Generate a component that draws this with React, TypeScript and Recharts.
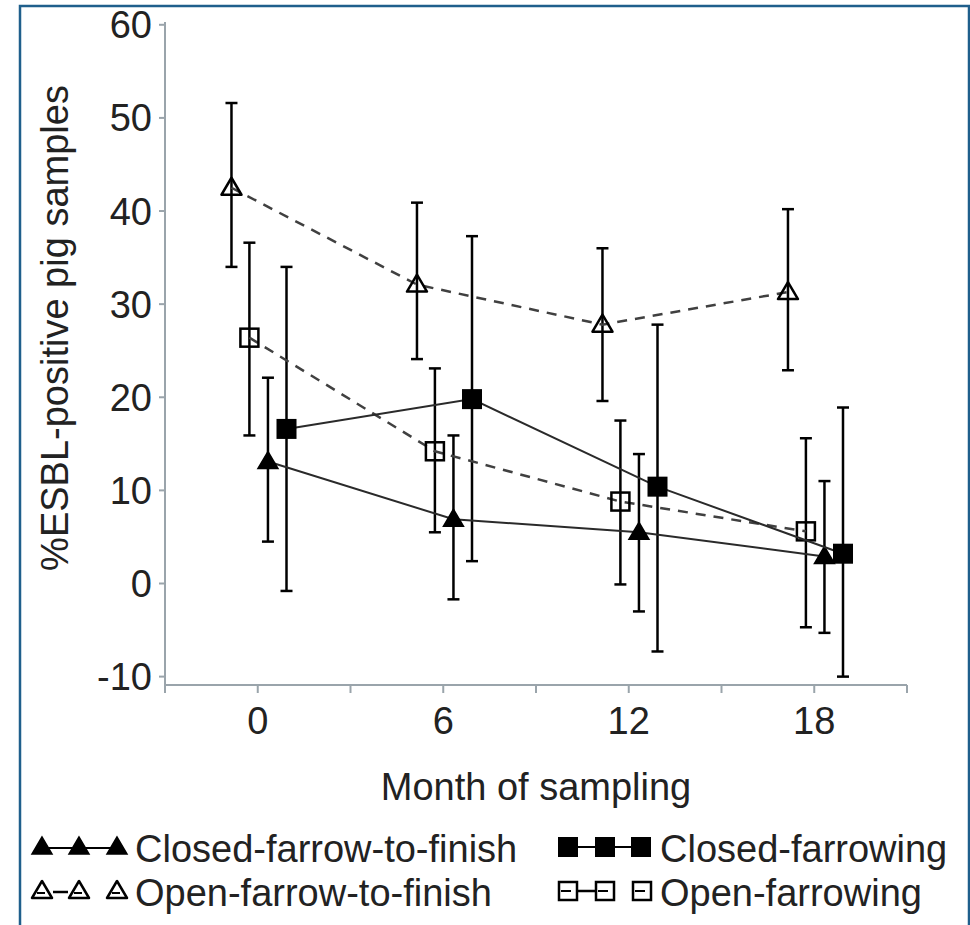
import React from "react";
import { ErrorBar, Scatter, ScatterChart, XAxis, YAxis } from "recharts";

// months of sampling, with a small dodge per herd type
const months = [0, 6, 12, 18];
const xTicks = [-3, 0, 3, 6, 9, 12, 15, 18, 21];
const xTickLabels = [0, 6, 12, 18];
const yTicks = [-10, 0, 10, 20, 30, 40, 50, 60];

const openFtfShift = -0.85;
const openFarShift = -0.27;
const closedFtfShift = 0.33;
const closedFarShift = 0.93;

// % ESBL-positive, with lower / upper CI bounds
const closedFtfPct = [13.1, 6.9, 5.5, 2.9];
const closedFtfLow = [4.5, -1.7, -3.0, -5.3];
const closedFtfHigh = [22.1, 15.9, 13.9, 11.0];

const closedFarPct = [16.6, 19.8, 10.4, 3.2];
const closedFarLow = [-0.8, 2.4, -7.3, -10.0];
const closedFarHigh = [34.0, 37.3, 27.8, 18.9];

const openFtfPct = [42.5, 32.1, 27.8, 31.3];
const openFtfLow = [34.0, 24.1, 19.6, 22.9];
const openFtfHigh = [51.6, 40.9, 36.0, 40.2];

const openFarPct = [26.4, 14.2, 8.8, 5.6];
const openFarLow = [15.9, 5.5, -0.1, -4.7];
const openFarHigh = [36.6, 23.1, 17.5, 15.6];

const legendLabels = [
  "Closed-farrow-to-finish",
  "Closed-farrowing",
  "Open-farrow-to-finish",
  "Open-farrowing",
];

const FONT = "'Liberation Sans', Arial, sans-serif";

function build(shift: number, pct: number[], low: number[], high: number[]) {
  return months.map((m, i) => ({
    x: m + shift,
    y: pct[i],
    err: [pct[i] - low[i], high[i] - pct[i]],
  }));
}

const closedFtfData = build(closedFtfShift, closedFtfPct, closedFtfLow, closedFtfHigh);
const closedFarData = build(closedFarShift, closedFarPct, closedFarLow, closedFarHigh);
const openFtfData = build(openFtfShift, openFtfPct, openFtfLow, openFtfHigh);
const openFarData = build(openFarShift, openFarPct, openFarLow, openFarHigh);

function triPoints(cx: number, cy: number) {
  return `${cx},${cy - 10} ${cx - 10},${cy + 7} ${cx + 10},${cy + 7}`;
}

function FilledTriangle({ cx, cy }: any) {
  return <polygon points={triPoints(cx, cy)} fill="#000" stroke="#000" strokeWidth={1.5} />;
}

function OpenTriangle({ cx, cy }: any) {
  return (
    <polygon points={triPoints(cx, cy)} fill="none" stroke="#000" strokeWidth={2.5} strokeLinejoin="round" />
  );
}

function FilledSquare({ cx, cy }: any) {
  return <rect x={cx - 10} y={cy - 10} width={20} height={20} fill="#000" />;
}

function OpenSquare({ cx, cy }: any) {
  return <rect x={cx - 9} y={cy - 9} width={18} height={18} fill="none" stroke="#000" strokeWidth={2.5} />;
}

function YLabel() {
  return (
    <text
      x={55}
      y={328}
      transform="rotate(-90 55 328)"
      textAnchor="middle"
      dominantBaseline="central"
      fontSize={38}
      fontFamily={FONT}
      fill="#222"
    >
      %ESBL-positive pig samples
    </text>
  );
}

function XLabel({ viewBox }: any) {
  const cx = viewBox ? viewBox.x + viewBox.width / 2 : 536;
  return (
    <text x={cx} y={800} textAnchor="middle" fontSize={38} fontFamily={FONT} fill="#222">
      Month of sampling
    </text>
  );
}

function Legend() {
  const r1 = 847;
  const r2 = 891;
  return (
    <svg
      width={970}
      height={925}
      style={{ position: "absolute", left: 0, top: 0, pointerEvents: "none" }}
    >
      <rect x={20} y={6} width={949} height={940} fill="none" stroke="#1f5f8c" strokeWidth={2.5} />
      {/* closed farrow-to-finish */}
      <line x1={42} y1={r1 + 1} x2={117} y2={r1 + 1} stroke="#000" strokeWidth={2} />
      {[42, 79, 117].map((x) => (
        <FilledTriangle key={x} cx={x} cy={r1} />
      ))}
      {/* open farrow-to-finish */}
      <line x1={53} y1={r2 + 1} x2={68} y2={r2 + 1} stroke="#000" strokeWidth={2.5} />
      {[42, 79, 117].map((x) => (
        <g key={x}>
          <OpenTriangle cx={x} cy={r2} />
          <line x1={x - 5} y1={r2 + 2} x2={x + 3} y2={r2 + 2} stroke="#000" strokeWidth={2} />
        </g>
      ))}
      {/* closed farrowing */}
      <line x1={568} y1={r1} x2={641} y2={r1} stroke="#000" strokeWidth={2} />
      {[568, 605, 641].map((x) => (
        <FilledSquare key={x} cx={x} cy={r1} />
      ))}
      {/* open farrowing */}
      <line x1={578} y1={r2} x2={596} y2={r2} stroke="#000" strokeWidth={2.5} />
      {[568, 605, 642].map((x) => (
        <g key={x}>
          <OpenSquare cx={x} cy={r2} />
          <line x1={x - 7} y1={r2} x2={x + 3} y2={r2} stroke="#000" strokeWidth={2} />
        </g>
      ))}
      <g fontSize={38} fontFamily={FONT} fill="#222">
        <text x={135} y={r1 + 15}>{legendLabels[0]}</text>
        <text x={660} y={r1 + 15}>{legendLabels[1]}</text>
        <text x={135} y={r2 + 15}>{legendLabels[2]}</text>
        <text x={660} y={r2 + 15}>{legendLabels[3]}</text>
      </g>
    </svg>
  );
}

const axisColor = "#9aa4ab";
const tickStyle = { fontSize: 38, fontFamily: FONT, fill: "#222" };
const solidLine = { stroke: "#2a2a2a", strokeWidth: 2 };
const dashedLine = { stroke: "#404040", strokeWidth: 2.5, strokeDasharray: "10 8" };

export default function App() {
  return (
    <div style={{ position: "absolute", left: 0, top: 0, width: 970, height: 925, background: "#fff" }}>
      <ScatterChart width={970} height={925} margin={{ top: 22, right: 63, left: 65, bottom: 180 }}>
        <XAxis
          type="number"
          dataKey="x"
          domain={[-3, 21]}
          ticks={xTicks}
          tickFormatter={(v: number) => (xTickLabels.includes(v) ? String(v) : "")}
          allowDataOverflow
          height={60}
          stroke={axisColor}
          strokeWidth={2}
          tickSize={8}
          tickMargin={14}
          tick={tickStyle}
          label={<XLabel />}
        />
        <YAxis
          type="number"
          dataKey="y"
          domain={[-10.9, 60.3]}
          ticks={yTicks}
          allowDataOverflow
          width={100}
          stroke={axisColor}
          strokeWidth={2}
          tickSize={6}
          tickMargin={7}
          tick={tickStyle}
          label={<YLabel />}
        />
        <Scatter
          data={openFtfData}
          line={dashedLine}
          lineType="joint"
          shape={(p: any) => <OpenTriangle {...p} />}
          isAnimationActive={false}
        >
          <ErrorBar dataKey="err" direction="y" width={6} stroke="#000" strokeWidth={2.5} isAnimationActive={false} />
        </Scatter>
        <Scatter
          data={openFarData}
          line={dashedLine}
          lineType="joint"
          shape={(p: any) => <OpenSquare {...p} />}
          isAnimationActive={false}
        >
          <ErrorBar dataKey="err" direction="y" width={6} stroke="#000" strokeWidth={2.5} isAnimationActive={false} />
        </Scatter>
        <Scatter
          data={closedFtfData}
          line={solidLine}
          lineType="joint"
          shape={(p: any) => <FilledTriangle {...p} />}
          isAnimationActive={false}
        >
          <ErrorBar dataKey="err" direction="y" width={6} stroke="#000" strokeWidth={2.5} isAnimationActive={false} />
        </Scatter>
        <Scatter
          data={closedFarData}
          line={solidLine}
          lineType="joint"
          shape={(p: any) => <FilledSquare {...p} />}
          isAnimationActive={false}
        >
          <ErrorBar dataKey="err" direction="y" width={6} stroke="#000" strokeWidth={2.5} isAnimationActive={false} />
        </Scatter>
      </ScatterChart>
      <Legend />
    </div>
  );
}
